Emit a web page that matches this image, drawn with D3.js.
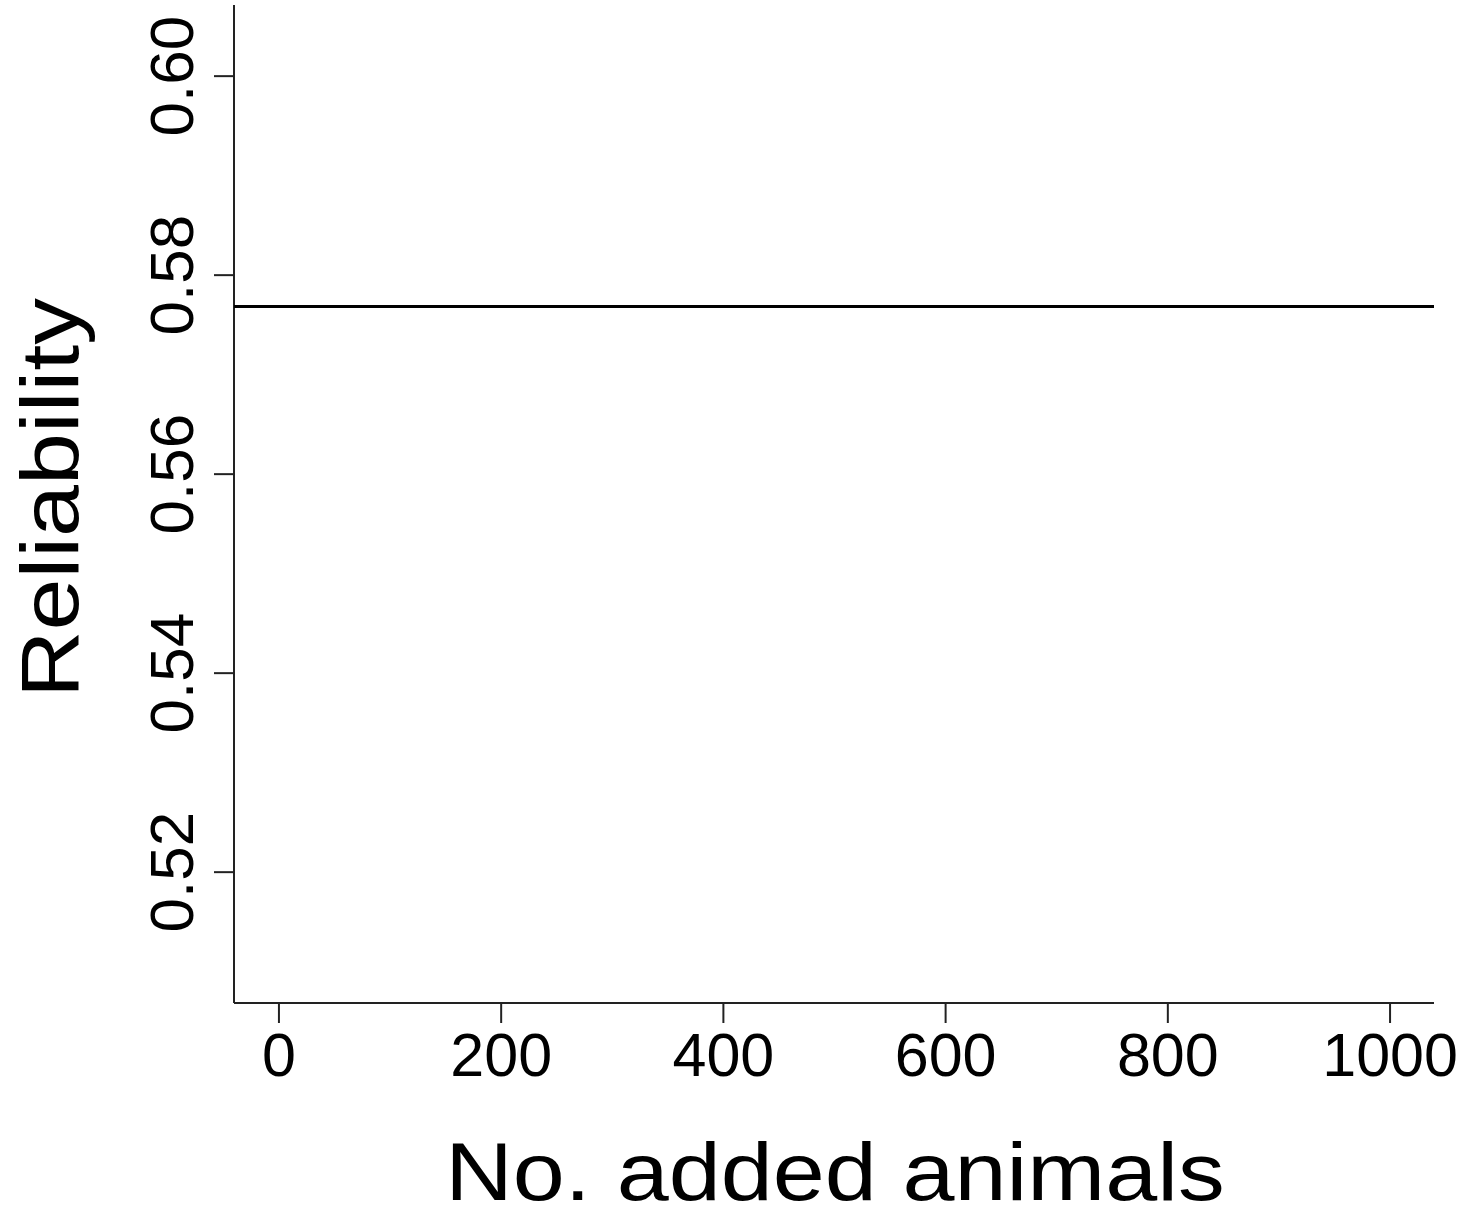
<!DOCTYPE html>
<html>
<head>
<meta charset="utf-8">
<script src="https://cdn.jsdelivr.net/npm/d3@7"></script>
<style>
  html, body { margin: 0; padding: 0; background: #fff; }
  svg { display: block; }
</style>
</head>
<body>
<svg id="chart" width="1464" height="1209"></svg>
<script>
// ---- data ----
const xTicks = [0, 200, 400, 600, 800, 1000];
const yTicks = [0.52, 0.54, 0.56, 0.58, 0.60];
const xDomain = [-40, 1040];
const yDomain = [0.5068, 0.6071];
const reliabilityLevel = [0.5768];   // horizontal reference line
const xTitle = "No. added animals";
const yTitle = "Reliability";

// ---- layout ----
const W = 1464, H = 1209;
const plot = { left: 234, right: 1434, top: 5, bottom: 1003 };
const svg = d3.select("#chart");

const x = d3.scaleLinear().domain(xDomain).range([plot.left, plot.right]);
const y = d3.scaleLinear().domain(yDomain).range([plot.bottom, plot.top]);

const tickFont = "'Liberation Sans', Arial, sans-serif";
const axisColor = "#222";

// x axis
const gx = svg.append("g")
  .attr("transform", `translate(0,${plot.bottom})`)
  .call(d3.axisBottom(x).tickValues(xTicks).tickFormat(d3.format("d"))
        .tickSize(20).tickSizeOuter(0).tickPadding(10));
gx.select(".domain").attr("stroke", axisColor).attr("stroke-width", 2)
  .attr("d", `M${plot.left},0H${plot.right}`);
gx.selectAll(".tick line").attr("stroke", axisColor).attr("stroke-width", 2);
gx.selectAll(".tick text")
  .attr("fill", "#000")
  .style("font-family", tickFont)
  .style("font-size", "61px")
  .attr("dy", null)
  .attr("y", 73);

// y axis
const gy = svg.append("g")
  .attr("transform", `translate(${plot.left},0)`)
  .call(d3.axisLeft(y).tickValues(yTicks).tickFormat(d3.format(".2f"))
        .tickSize(20).tickSizeOuter(0));
gy.select(".domain").attr("stroke", axisColor).attr("stroke-width", 2)
  .attr("d", `M0,${plot.top}V${plot.bottom}`);
gy.selectAll(".tick line").attr("stroke", axisColor).attr("stroke-width", 2);
gy.selectAll(".tick text")
  .attr("fill", "#000")
  .style("font-family", tickFont)
  .style("font-size", "62px")
  .attr("x", null).attr("dy", null)
  .attr("text-anchor", "middle")
  .attr("transform", "translate(-41,0) rotate(-90)");

// reference line
svg.append("g").selectAll("line")
  .data(reliabilityLevel)
  .join("line")
  .attr("x1", x(xDomain[0]))
  .attr("x2", x(xDomain[1]))
  .attr("y1", d => y(d))
  .attr("y2", d => y(d))
  .attr("stroke", "#000")
  .attr("stroke-width", 3);

// axis titles
svg.append("text")
  .attr("transform", `translate(${(plot.left + plot.right) / 2 + 1},1200) scale(1.14,1)`)
  .attr("text-anchor", "middle")
  .style("font-family", tickFont)
  .style("font-size", "82px")
  .attr("fill", "#000")
  .text(xTitle);

svg.append("text")
  .attr("transform", `translate(78,${(plot.top + plot.bottom) / 2 - 6}) rotate(-90) scale(1.14,1)`)
  .attr("text-anchor", "middle")
  .style("font-family", tickFont)
  .style("font-size", "82px")
  .attr("fill", "#000")
  .text(yTitle);
</script>
</body>
</html>
